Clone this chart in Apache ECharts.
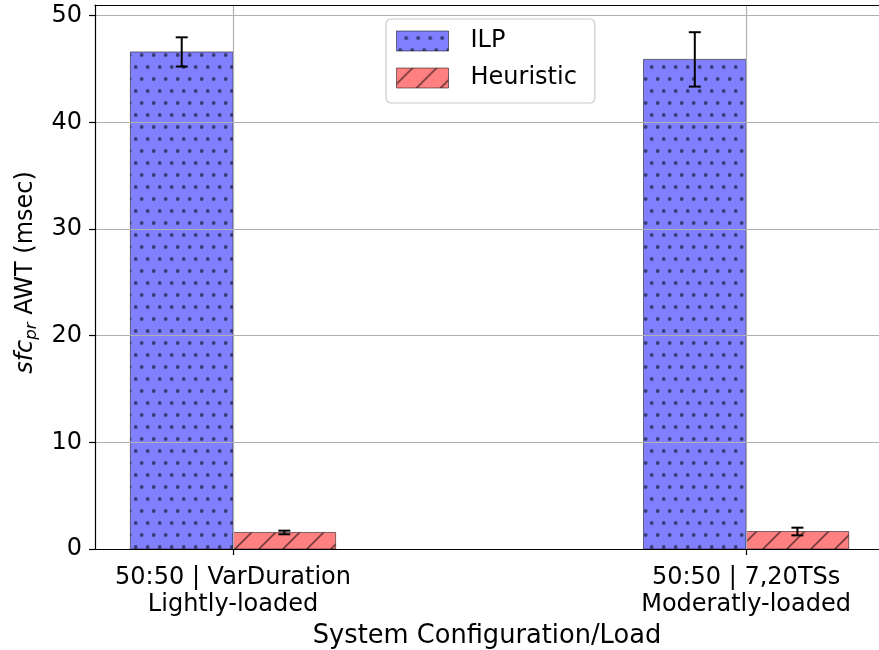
<!DOCTYPE html>
<html>
<head>
<meta charset="utf-8">
<script src="https://cdn.jsdelivr.net/npm/echarts@6/dist/echarts.min.js"></script>
<style>
  html, body { margin: 0; padding: 0; background: #fff; }
  #chart { width: 879px; height: 650px; }
</style>
</head>
<body>
<div id="chart"></div>
<script>
// Groups shown on the x axis (two lines each)
const categories = ['50:50 | VarDuration\nLightly-loaded', '50:50 | 7,20TSs\nModeratly-loaded'];
const seriesNames = ['ILP', 'Heuristic'];
// Mean AWT in msec and the error bar half-widths
const ilpValues = [46.6, 45.9];
const ilpErrors = [1.37, 2.55];
const heuristicValues = [1.55, 1.64];
const heuristicErrors = [0.17, 0.36];
const yTicks = [0, 10, 20, 30, 40, 50];
const xTicks = [0, 1];

const FONT = 'DejaVu Sans';
const BAR_W = 0.2;

// Fill textures: dotted (ILP) and single-hatched (Heuristic)
function dotTile(bg, fg) {
  const c = document.createElement('canvas');
  c.width = 12; c.height = 24;
  const g = c.getContext('2d');
  g.fillStyle = bg; g.fillRect(0, 0, 12, 24);
  g.fillStyle = fg;
  [[9.7, 7], [3.7, 19]].forEach(function (p) {
    g.beginPath(); g.arc(p[0], p[1], 1.9, 0, Math.PI * 2); g.fill();
  });
  return c;
}
function hatchTile(bg, fg) {
  const c = document.createElement('canvas');
  c.width = 24; c.height = 24;
  const g = c.getContext('2d');
  g.fillStyle = bg; g.fillRect(0, 0, 24, 24);
  g.strokeStyle = fg; g.lineWidth = 1.7;
  g.beginPath();
  g.moveTo(18, -2); g.lineTo(-2, 18);
  g.moveTo(42, -2); g.lineTo(-2, 42);
  g.stroke();
  return c;
}
const ilpFill = { image: dotTile('rgb(128,128,255)', 'rgb(60,60,120)'), repeat: 'repeat' };
const heuFill = { image: hatchTile('rgb(255,128,128)', 'rgb(120,60,60)'), repeat: 'repeat' };
const fills = [ilpFill, heuFill];
const offsets = [-BAR_W / 2, BAR_W / 2];

function barData(values) {
  return values.map(function (v, i) { return [i, v]; });
}
function errData(values, errs) {
  return values.map(function (v, i) { return [i, v, errs[i]]; });
}

function barSeries(name, values, k) {
  return {
    name: name,
    type: 'custom',
    z: 2,
    itemStyle: { color: fills[k], borderColor: 'rgba(0,0,0,0.5)', borderWidth: 1 },
    data: barData(values),
    encode: { x: 0, y: 1 },
    renderItem: function (params, api) {
      const xc = api.value(0) + offsets[k];
      const p0 = api.coord([xc - BAR_W / 2, 0]);
      const p1 = api.coord([xc + BAR_W / 2, api.value(1)]);
      return {
        type: 'rect',
        shape: { x: p0[0], y: p1[1], width: p1[0] - p0[0], height: p0[1] - p1[1] },
        style: { fill: fills[k], stroke: 'rgba(0,0,0,0.5)', lineWidth: 1 }
      };
    }
  };
}

function errSeries(name, values, errs, k) {
  return {
    name: name,
    type: 'custom',
    z: 6,
    silent: true,
    data: errData(values, errs),
    encode: { x: 0, y: 1 },
    renderItem: function (params, api) {
      const xc = api.value(0) + offsets[k];
      const v = api.value(1), e = api.value(2);
      const top = api.coord([xc, v + e]);
      const bot = api.coord([xc, v - e]);
      const cap = 6;
      const st = { stroke: '#000', lineWidth: 2 };
      return {
        type: 'group',
        children: [
          { type: 'line', shape: { x1: top[0], y1: top[1], x2: bot[0], y2: bot[1] }, style: st },
          { type: 'line', shape: { x1: top[0] - cap, y1: top[1], x2: top[0] + cap, y2: top[1] }, style: st },
          { type: 'line', shape: { x1: bot[0] - cap, y1: bot[1], x2: bot[0] + cap, y2: bot[1] }, style: st }
        ]
      };
    }
  };
}

const chart = echarts.init(document.getElementById('chart'), null, { renderer: 'canvas' });
chart.setOption({
  animation: false,
  backgroundColor: '#fff',
  textStyle: { fontFamily: FONT },
  grid: { left: 95, top: 5, right: 0, bottom: 101, show: false, containLabel: false, outerBoundsMode: 'none' },
  legend: {
    orient: 'vertical',
    left: 386, top: 19,
    padding: [10, 18, 13, 10],
    itemGap: 13,
    itemWidth: 52, itemHeight: 20,
    backgroundColor: '#fff',
    borderColor: '#ccc', borderWidth: 1.2, borderRadius: 5,
    textStyle: { fontFamily: FONT, fontSize: 24, color: '#000', padding: [0, 0, 0, 17] },
    data: [
      { name: seriesNames[0], icon: 'rect', itemStyle: { color: ilpFill, borderColor: 'rgba(0,0,0,0.5)', borderWidth: 1 } },
      { name: seriesNames[1], icon: 'rect', itemStyle: { color: heuFill, borderColor: 'rgba(0,0,0,0.5)', borderWidth: 1 } }
    ]
  },
  xAxis: [{
    type: 'value',
    min: -0.269, max: 1.259,
    z: 4,
    name: 'System Configuration/Load',
    nameLocation: 'middle',
    nameGap: 73,
    nameTextStyle: { fontFamily: FONT, fontSize: 25.7, color: '#000' },
    axisLine: { onZero: false, lineStyle: { color: '#000', width: 1.2 } },
    axisTick: { show: true, customValues: xTicks, length: 6, lineStyle: { color: '#000', width: 1.2 } },
    axisLabel: {
      customValues: xTicks,
      margin: 15,
      fontFamily: FONT, fontSize: 24, color: '#000', lineHeight: 27,
      formatter: function (v) { return categories[Math.round(v)] || ''; }
    },
    splitLine: { show: true, lineStyle: { color: '#b0b0b0', width: 1.2 } }
  }, {
    // top frame line
    type: 'value',
    position: 'top',
    min: -0.269, max: 1.259,
    z: 4,
    axisLine: { show: true, onZero: false, lineStyle: { color: '#000', width: 1.2 } },
    axisTick: { show: false },
    axisLabel: { show: false },
    splitLine: { show: false }
  }],
  yAxis: {
    type: 'value',
    min: 0, max: 51,
    z: 4,
    name: '{i|sfc}{s|pr}{n| AWT (msec)}',
    nameLocation: 'middle',
    nameGap: 47,
    nameRotate: 90,
    nameTextStyle: {
      fontFamily: FONT, fontSize: 24, color: '#000',
      padding: [0, 0, 0, 9],
      rich: {
        i: { fontFamily: FONT, fontSize: 24, fontStyle: 'italic', color: '#000' },
        s: { fontFamily: FONT, fontSize: 16.5, fontStyle: 'italic', color: '#000', padding: [12, 0, 0, 0] },
        n: { fontFamily: FONT, fontSize: 24, color: '#000' }
      }
    },
    axisLine: { show: true, onZero: false, lineStyle: { color: '#000', width: 1.2 } },
    axisTick: { show: true, customValues: yTicks, length: 6, lineStyle: { color: '#000', width: 1.2 } },
    axisLabel: { customValues: yTicks, margin: 13, fontFamily: FONT, fontSize: 24, color: '#000' },
    splitLine: { show: true, lineStyle: { color: '#b0b0b0', width: 1.2 } }
  },
  series: [
    barSeries(seriesNames[0], ilpValues, 0),
    barSeries(seriesNames[1], heuristicValues, 1),
    errSeries(seriesNames[0], ilpValues, ilpErrors, 0),
    errSeries(seriesNames[1], heuristicValues, heuristicErrors, 1)
  ]
});
</script>
</body>
</html>
